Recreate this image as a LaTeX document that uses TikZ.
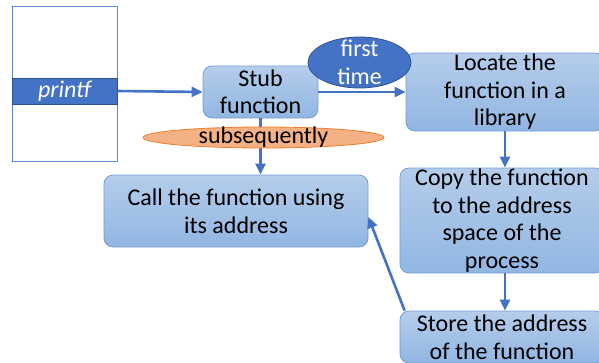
\documentclass[tikz,border=0pt]{standalone}
\usepackage{fontspec}
\setmainfont{Carlito}
\usetikzlibrary{shapes.geometric,arrows.meta}

\definecolor{accentblue}{RGB}{68,114,196}
\definecolor{darkblue}{RGB}{47,82,143}
\definecolor{boxtop}{RGB}{181,205,235}
\definecolor{boxbottom}{RGB}{145,182,226}
\definecolor{boxline}{RGB}{115,158,214}
\definecolor{salmon}{RGB}{244,177,131}
\definecolor{orangeline}{RGB}{237,125,49}

\tikzset{
  stepbox/.style={draw=boxline, line width=0.8pt, rounded corners=9pt,
    top color=boxtop, bottom color=boxbottom, align=center, inner sep=0pt},
  flow/.style={draw=accentblue, line width=2.6pt,
    -{Triangle[length=11pt,width=10pt]}},
}

\begin{document}
\begin{tikzpicture}[x=1pt, y=-1pt, font=\fontsize{24}{27.5}\selectfont]
    \useasboundingbox (0,0) rectangle (599,362);
    \clip (0,0) rectangle (599,362);

    % Memory of the program
    \node[draw=accentblue!85, line width=0.8pt, minimum width=105pt,
        minimum height=155pt, inner sep=0pt] (stack) at (64.5,83.5) {};
    \node[fill=accentblue, draw=darkblue, line width=0.6pt, minimum width=105pt,
        minimum height=26pt, inner sep=0pt, text=white] (printf) at (64.5,91) {\itshape printf};

    % Steps
    \node[stepbox, minimum width=115pt, minimum height=52pt] (stub) at (260.5,92) {Stub\\function};
    \node[stepbox, minimum width=198pt, minimum height=78pt] (locate) at (505,92) {Locate the\\function in a\\library};
    \node[stepbox, minimum width=204pt, minimum height=105pt] (copy) at (502,220.5) {Copy the function\\to the address\\space of the\\process};
    \node[stepbox, minimum width=204pt, minimum height=52pt] (store) at (502,337) {Store the address\\of the function};
    \node[stepbox, minimum width=264pt, minimum height=72pt] (call) at (236,211) {Call the function using\\its address};

    % Arrows
    \draw[flow] (printf.east) -- (stub.west);
    \draw[flow] (stub.east) -- (locate.west);
    \draw[flow] (stub.south) -- (stub.south |- call.north);
    \draw[flow] (locate.south) -- (locate.south |- copy.north);
    \draw[flow] (locate.south |- copy.south) -- (locate.south |- store.north);
    \draw[flow] ([xshift=5pt]store.north west) -- ([yshift=-6pt]call.east);

    % Branch labels
    \node[ellipse, fill=accentblue, draw=darkblue, line width=0.8pt, minimum width=103pt,
        minimum height=51pt, inner sep=0pt] (firstoval) at (359.5,62.5) {};
    \node[text=white, align=center] (firstlabel) at (firstoval) {first\\time};
    \node[ellipse, fill=salmon, draw=orangeline, line width=0.8pt, minimum width=241pt,
        minimum height=21pt, inner sep=0pt] (subseqoval) at (263.5,137.5) {};
    \node (subseqlabel) at (subseqoval) {subsequently};

\end{tikzpicture}
\end{document}
